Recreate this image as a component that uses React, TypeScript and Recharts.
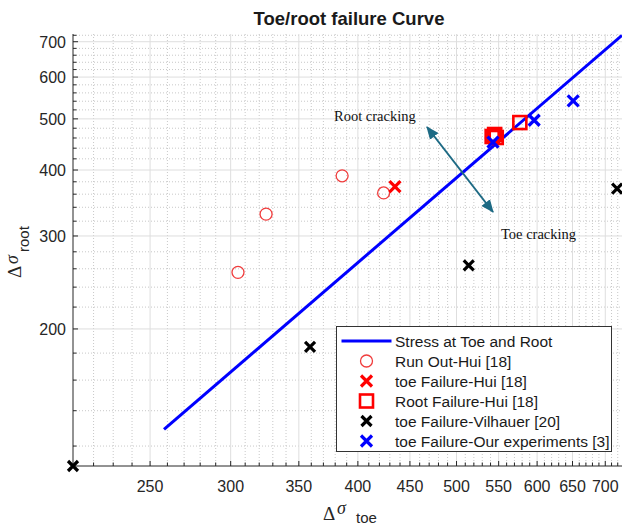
import { CartesianGrid, Legend, Scatter, ScatterChart, XAxis, YAxis } from "recharts";

const SANS = "'Liberation Sans', Arial, sans-serif";
const SERIF = "'Liberation Serif', 'Times New Roman', serif";
const AXIS = "#262626";
const TEAL = "#1d6a84";

// stress at toe vs stress at root (log-log)
const stressLine = [
  { toe: 258, root: 129 },
  { toe: 727, root: 720 },
];
const runOutHui = [
  { toe: 305, root: 256 },
  { toe: 325, root: 330 },
  { toe: 386, root: 390 },
  { toe: 424, root: 362 },
];
const toeFailHui = [{ toe: 435, root: 372 }];
const rootFailHui = [
  { toe: 542, root: 463 },
  { toe: 545, root: 467 },
  { toe: 547, root: 461 },
  { toe: 577, root: 492 },
];
const toeFailVilhauer = [
  { toe: 210, root: 110 },
  { toe: 359, root: 185 },
  { toe: 514, root: 264 },
  { toe: 719, root: 369 },
];
const toeFailOurs = [
  { toe: 543, root: 452 },
  { toe: 596, root: 497 },
  { toe: 651, root: 541 },
];

const X_DOMAIN = [210, 727];
const Y_DOMAIN = [110, 724];
const X_MAJOR = [250, 300, 350, 400, 450, 500, 550, 600, 650, 700];
const X_MINOR = [
  220, 230, 240, 260, 270, 280, 290, 310, 320, 330, 340, 360, 370, 380, 390,
  410, 420, 430, 440, 460, 470, 480, 490, 510, 520, 530, 540, 560, 570, 580,
  590, 610, 620, 630, 640, 660, 670, 680, 690, 710, 720,
];
const Y_MAJOR = [200, 300, 400, 500, 600, 700];
const Y_MINOR = [
  120, 140, 160, 180, 220, 240, 260, 280, 320, 340, 360, 380, 420, 440, 460,
  480, 520, 540, 560, 580, 620, 640, 660, 680, 720,
];
const X_TICKS = [...X_MAJOR, ...X_MINOR].sort((a, b) => a - b);
const Y_TICKS = [...Y_MAJOR, ...Y_MINOR].sort((a, b) => a - b);

type MarkerKind = "line" | "circle" | "cross" | "square";

const SERIES: { name: string; kind: MarkerKind; color: string; size: number }[] = [
  { name: "Stress at Toe and Root", kind: "line", color: "#0000ff", size: 0 },
  { name: "Run Out-Hui [18]", kind: "circle", color: "#f03c3c", size: 12 },
  { name: "toe Failure-Hui [18]", kind: "cross", color: "#ff0000", size: 11 },
  { name: "Root Failure-Hui [18]", kind: "square", color: "#ff0000", size: 13 },
  { name: "toe Failure-Vilhauer [20]", kind: "cross", color: "#000000", size: 10 },
  { name: "toe Failure-Our experiments [3]", kind: "cross", color: "#0000ff", size: 11 },
];

function Marker({ kind, color, size, cx, cy }: { kind: MarkerKind; color: string; size: number; cx: number; cy: number }) {
  const h = size / 2;
  if (kind === "circle") return <circle cx={cx} cy={cy} r={h} fill="none" stroke={color} strokeWidth={1.3} />;
  if (kind === "square")
    return <rect x={cx - h} y={cy - h} width={size} height={size} fill="none" stroke={color} strokeWidth={2.6} />;
  if (kind === "cross")
    return (
      <path
        d={`M${cx - h},${cy - h}L${cx + h},${cy + h}M${cx - h},${cy + h}L${cx + h},${cy - h}`}
        stroke={color}
        strokeWidth={3.2}
        fill="none"
      />
    );
  return <line x1={cx - 25} x2={cx + 25} y1={cy} y2={cy} stroke={color} strokeWidth={3} />;
}

const shapeOf = (i: number) => (p: any) => {
  const s = SERIES[i];
  return <Marker kind={s.kind} color={s.color} size={s.size} cx={p.cx} cy={p.cy} />;
};

function XTick({ x, y, payload }: any) {
  const major = X_MAJOR.includes(payload.value);
  return (
    <g>
      <line x1={x} x2={x} y1={y} y2={y - (major ? 5 : 3.5)} stroke={AXIS} />
      {major && (
        <text x={x} y={y + 26} textAnchor="middle" fontSize={16} fontFamily={SANS} fill={AXIS}>
          {payload.value}
        </text>
      )}
    </g>
  );
}

function YTick({ x, y, payload }: any) {
  const major = Y_MAJOR.includes(payload.value);
  return (
    <g>
      <line x1={x} x2={x + (major ? 5 : 3.5)} y1={y} y2={y} stroke={AXIS} />
      {major && (
        <text x={x - 7} y={y + 6} textAnchor="end" fontSize={16} fontFamily={SANS} fill={AXIS}>
          {payload.value}
        </text>
      )}
    </g>
  );
}

function LegendBox() {
  return (
    <svg width={276} height={126} style={{ display: "block" }}>
      <rect x={0.5} y={0.5} width={275} height={125} fill="#fff" stroke="#333" />
      {SERIES.map((s, i) => {
        const cy = 15 + i * 20;
        return (
          <g key={s.name}>
            <Marker kind={s.kind} color={s.color} size={s.size} cx={30.5} cy={cy} />
            <text x={59} y={cy + 5.5} fontSize={15.5} fontFamily={SANS} fill="#1a1a1a">
              {s.name}
            </text>
          </g>
        );
      })}
    </svg>
  );
}

export default function App() {
  return (
    <div style={{ position: "absolute", left: 0, top: 0, width: 622, height: 528, background: "#fff" }}>
      <ScatterChart width={622} height={528} margin={{ top: 34, right: 0, bottom: 0, left: 0 }}>
        <CartesianGrid horizontalValues={Y_MINOR} verticalValues={X_MINOR} stroke="#c8c8c8" strokeDasharray="1 2" />
        <CartesianGrid horizontalValues={Y_MAJOR} verticalValues={X_MAJOR} stroke="#dedede" />
        <XAxis
          type="number"
          dataKey="toe"
          scale="log"
          domain={X_DOMAIN}
          ticks={X_TICKS}
          interval={0}
          height={62}
          tickSize={0}
          tickMargin={0}
          tickLine={false}
          stroke={AXIS}
          tick={(p: any) => <XTick {...p} />}
        />
        <YAxis
          type="number"
          dataKey="root"
          scale="log"
          domain={Y_DOMAIN}
          ticks={Y_TICKS}
          interval={0}
          width={73}
          tickSize={0}
          tickMargin={0}
          tickLine={false}
          stroke={AXIS}
          tick={(p: any) => <YTick {...p} />}
        />
        <Scatter data={stressLine} line={{ stroke: "#0000ff", strokeWidth: 3 }} shape={() => <g />} isAnimationActive={false} />
        <Scatter data={runOutHui} shape={shapeOf(1)} isAnimationActive={false} />
        <Scatter data={toeFailHui} shape={shapeOf(2)} isAnimationActive={false} />
        <Scatter data={rootFailHui} shape={shapeOf(3)} isAnimationActive={false} />
        <Scatter data={toeFailVilhauer} shape={shapeOf(4)} isAnimationActive={false} />
        <Scatter data={toeFailOurs} shape={shapeOf(5)} isAnimationActive={false} />
        <Legend
          layout="vertical"
          align="center"
          verticalAlign="middle"
          wrapperStyle={{ left: 336, top: 326, width: 276 }}
          content={() => <LegendBox />}
        />
      </ScatterChart>

      {/* title, axis labels and the cracking-direction arrow */}
      <svg width={622} height={528} style={{ position: "absolute", left: 0, top: 0, pointerEvents: "none" }}>
        <defs>
          <marker id="ahead" viewBox="0 0 12 10" refX="11" refY="5" markerWidth="13" markerHeight="11"
            markerUnits="userSpaceOnUse" orient="auto-start-reverse">
            <path d="M0,0 L12,5 L0,10 z" fill={TEAL} />
          </marker>
        </defs>
        <text x={349} y={25} textAnchor="middle" fontSize={18.5} fontWeight="bold" fontFamily={SANS} fill="#1a1a1a">
          Toe/root failure Curve
        </text>
        <line x1={427} y1={127} x2={493} y2={212} stroke={TEAL} strokeWidth={2}
          markerStart="url(#ahead)" markerEnd="url(#ahead)" />
        <text x={334} y={121} fontSize={14.5} fontFamily={SERIF} fill="#111">Root cracking</text>
        <text x={501} y={239} fontSize={14.5} fontFamily={SERIF} fill="#111">Toe cracking</text>

        <g fill={AXIS}>
          <text x={323} y={520} fontSize={19} fontFamily={SERIF}>Δ</text>
          <text x={337} y={514} fontSize={18} fontStyle="italic" fontFamily={SERIF}>σ</text>
          <text x={356} y={523} fontSize={15} fontFamily={SANS}>toe</text>
        </g>
        <g fill={AXIS} transform="rotate(-90)">
          <text x={-278} y={21} fontSize={19} fontFamily={SERIF}>Δ</text>
          <text x={-264} y={18} fontSize={18} fontStyle="italic" fontFamily={SERIF}>σ</text>
          <text x={-252} y={29} fontSize={15} fontFamily={SANS}>root</text>
        </g>
      </svg>
    </div>
  );
}
